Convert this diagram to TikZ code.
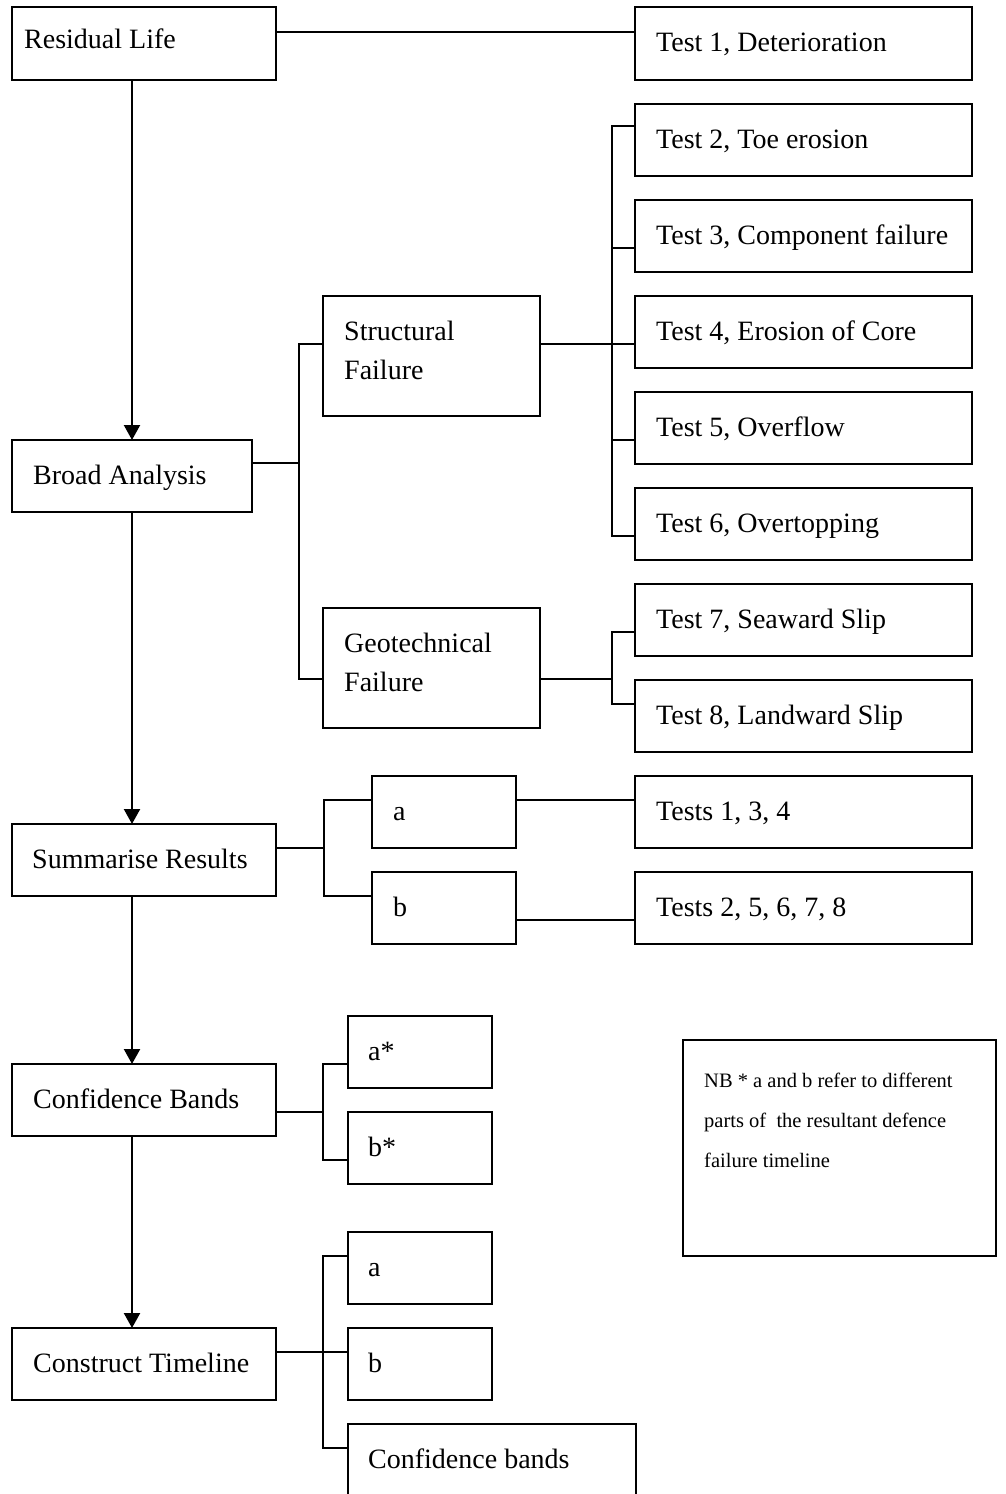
\documentclass[tikz,border=0pt]{standalone}
\usepackage{fontspec}
\setmainfont{Liberation Serif}
\usetikzlibrary{arrows.meta}
\begin{document}
\begin{tikzpicture}[x=1pt,y=-1pt,
  box/.style={draw, line width=2.2pt, rectangle, inner sep=0pt, outer sep=0pt, anchor=north west},
  sbox/.style={box, minimum width=144pt, minimum height=72pt},
  tbox/.style={box, minimum width=337pt, minimum height=72pt},
  mbox/.style={box, minimum width=264pt, minimum height=72pt},
  txt/.style={inner sep=0pt, anchor=base west, font=\fontsize{28}{39}\selectfont, align=left},
  note/.style={inner sep=0pt, anchor=base west, font=\fontsize{20.5}{40}\selectfont, align=left},
  link/.style={line width=2.2pt},
  arr/.style={line width=2.2pt, -{Triangle[width=16pt,length=15pt]}}]
\useasboundingbox (0,0) rectangle (1005,1494);

% main column
\node[mbox, minimum height=73pt] (rl) at (12,7) {};
\node[box, minimum width=240pt, minimum height=72pt] (ba) at (12,440) {};
\node[mbox] (sr) at (12,824) {};
\node[mbox] (cb) at (12,1064) {};
\node[mbox] (ct) at (12,1328) {};
\node[txt] (rl-t) at ([shift={(12pt,-41pt)}]rl.north west) {Residual Life};
\node[txt] (ba-t) at ([shift={(21pt,-44pt)}]ba.north west) {Broad Analysis};
\node[txt] (sr-t) at ([shift={(20pt,-44pt)}]sr.north west) {Summarise Results};
\node[txt] (cb-t) at ([shift={(21pt,-44pt)}]cb.north west) {Confidence Bands};
\node[txt] (ct-t) at ([shift={(21pt,-44pt)}]ct.north west) {Construct Timeline};

% failure modes (two-line labels sit on the baseline of their last line)
\node[box, minimum width=217pt, minimum height=120pt] (sf) at (323,296) {};
\node[box, minimum width=217pt, minimum height=120pt] (gf) at (323,608) {};
\node[txt] (sf-t) at ([shift={(21pt,-83pt)}]sf.north west) {Structural\\Failure};
\node[txt] (gf-t) at ([shift={(21pt,-83pt)}]gf.north west) {Geotechnical\\Failure};

% tests
\node[tbox, minimum height=73pt] (t1) at (635,7) {};
\node[tbox] (t2) at (635,104) {};
\node[tbox] (t3) at (635,200) {};
\node[tbox] (t4) at (635,296) {};
\node[tbox] (t5) at (635,392) {};
\node[tbox] (t6) at (635,488) {};
\node[tbox] (t7) at (635,584) {};
\node[tbox] (t8) at (635,680) {};
\node[tbox] (ta) at (635,776) {};
\node[tbox] (tb) at (635,872) {};
\node[txt] (t1-t) at ([shift={(21pt,-44pt)}]t1.north west) {Test 1, Deterioration};
\node[txt] (t2-t) at ([shift={(21pt,-44pt)}]t2.north west) {Test 2, Toe erosion};
\node[txt] (t3-t) at ([shift={(21pt,-44pt)}]t3.north west) {Test 3, Component failure};
\node[txt] (t4-t) at ([shift={(21pt,-44pt)}]t4.north west) {Test 4, Erosion of Core};
\node[txt] (t5-t) at ([shift={(21pt,-44pt)}]t5.north west) {Test 5, Overflow};
\node[txt] (t6-t) at ([shift={(21pt,-44pt)}]t6.north west) {Test 6, Overtopping};
\node[txt] (t7-t) at ([shift={(21pt,-44pt)}]t7.north west) {Test 7, Seaward Slip};
\node[txt] (t8-t) at ([shift={(21pt,-44pt)}]t8.north west) {Test 8, Landward Slip};
\node[txt] (ta-t) at ([shift={(21pt,-44pt)}]ta.north west) {Tests 1, 3, 4};
\node[txt] (tb-t) at ([shift={(21pt,-44pt)}]tb.north west) {Tests 2, 5, 6, 7, 8};

% result parts
\node[sbox] (sa) at (372,776) {};
\node[sbox] (sb) at (372,872) {};
\node[txt] (sa-t) at ([shift={(21pt,-44pt)}]sa.north west) {a};
\node[txt] (sb-t) at ([shift={(21pt,-44pt)}]sb.north west) {b};

% confidence parts
\node[sbox] (ca) at (348,1016) {};
\node[sbox] (cbb) at (348,1112) {};
\node[txt] (ca-t) at ([shift={(20pt,-44pt)}]ca.north west) {a*};
\node[txt] (cbb-t) at ([shift={(20pt,-44pt)}]cbb.north west) {b*};

% timeline parts
\node[sbox] (la) at (348,1232) {};
\node[sbox] (lb) at (348,1328) {};
\node[box, minimum width=288pt, minimum height=72pt] (lc) at (348,1424) {};
\node[txt] (la-t) at ([shift={(20pt,-44pt)}]la.north west) {a};
\node[txt] (lb-t) at ([shift={(20pt,-44pt)}]lb.north west) {b};
\node[txt] (lc-t) at ([shift={(20pt,-44pt)}]lc.north west) {Confidence bands};

% note
\node[box, minimum width=313pt, minimum height=216pt] (nb) at (683,1040) {};
\node[note] (nb-t) at ([shift={(21pt,-127pt)}]nb.north west)
  {NB * a and b refer to different\\parts of~ the resultant defence\\failure timeline};

% main flow
\draw[arr] ([xshift=120pt]rl.south west) -- ([xshift=120pt]ba.north west);
\draw[arr] ([xshift=120pt]ba.south west) -- ([xshift=120pt]sr.north west);
\draw[arr] ([xshift=120pt]sr.south west) -- ([xshift=120pt]cb.north west);
\draw[arr] ([xshift=120pt]cb.south west) -- ([xshift=120pt]ct.north west);

% residual life to test 1
\draw[link] ([yshift=-25pt]rl.north east) -- ([yshift=-25pt]t1.north west);

% broad analysis branches
\coordinate (j1) at (299,463);
\draw[link] ([yshift=-23pt]ba.north east) -- (j1);
\draw[link] (j1) |- ([yshift=-48pt]sf.north west);
\draw[link] (j1) |- ([yshift=-71pt]gf.north west);

% structural failure tests
\coordinate (j2) at (612,344);
\draw[link] ([yshift=-48pt]sf.north east) -- (j2);
\draw[link] (j2) |- ([yshift=-22pt]t2.north west);
\draw[link] (j2) |- ([yshift=-48pt]t3.north west);
\draw[link] (j2) |- ([yshift=-48pt]t4.north west);
\draw[link] (j2) |- ([yshift=-48pt]t5.north west);
\draw[link] (j2) |- ([yshift=-48pt]t6.north west);

% geotechnical failure tests
\coordinate (j3) at (612,679);
\draw[link] ([yshift=-71pt]gf.north east) -- (j3);
\draw[link] (j3) |- ([yshift=-48pt]t7.north west);
\draw[link] (j3) |- ([yshift=-24pt]t8.north west);

% summarise results
\coordinate (j4) at (324,848);
\draw[link] ([yshift=-24pt]sr.north east) -- (j4);
\draw[link] (j4) |- ([yshift=-24pt]sa.north west);
\draw[link] (j4) |- ([yshift=-24pt]sb.north west);
\draw[link] ([yshift=-24pt]sa.north east) -- ([yshift=-24pt]ta.north west);
\draw[link] ([yshift=-48pt]sb.north east) -- ([yshift=-48pt]tb.north west);

% confidence bands
\coordinate (j5) at (323,1112);
\draw[link] ([yshift=-48pt]cb.north east) -- (j5);
\draw[link] (j5) |- ([yshift=-48pt]ca.north west);
\draw[link] (j5) |- ([yshift=-48pt]cbb.north west);

% construct timeline
\coordinate (j6) at (323,1352);
\draw[link] ([yshift=-24pt]ct.north east) -- ([yshift=-24pt]lb.north west);
\draw[link] (j6) |- ([yshift=-24pt]la.north west);
\draw[link] (j6) |- ([yshift=-24pt]lc.north west);
\end{tikzpicture}
\end{document}
